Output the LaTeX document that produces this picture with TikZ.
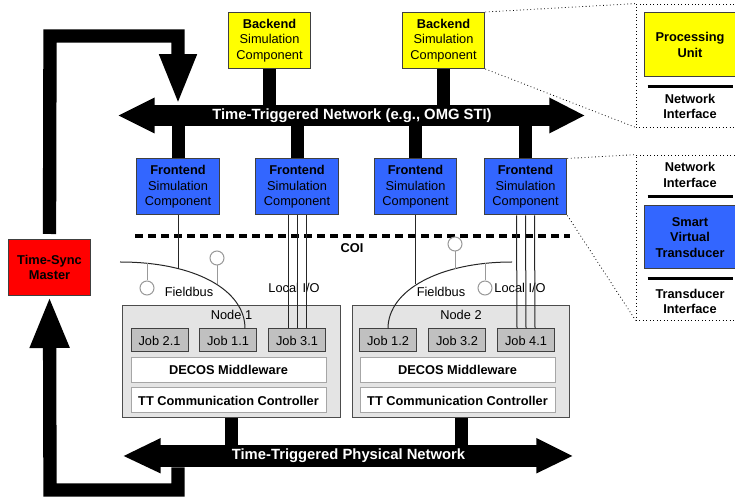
\documentclass[tikz,border=0pt]{standalone}
\usepackage{fontspec}
\setmainfont{Liberation Sans}
\usetikzlibrary{arrows.meta,calc,positioning}

\definecolor{simyellow}{HTML}{FFFF00}
\definecolor{simblue}{HTML}{3366FF}
\definecolor{syncred}{HTML}{FF0000}
\definecolor{nodegray}{HTML}{E4E4E4}
\definecolor{jobgray}{HTML}{C0C0C0}

\begin{document}
\begin{tikzpicture}[x=0.75pt,y=-0.75pt,
  font=\fontsize{9.6}{11.6}\selectfont,
  simbox/.style={draw=black!75,line width=0.75pt,minimum width=62pt,minimum height=42pt,align=center,inner sep=0pt},
  backend/.style={simbox,fill=simyellow},
  frontend/.style={simbox,fill=simblue},
  shaft/.style={fill=black,text=white,font=\fontsize{11.1}{13}\selectfont\bfseries,inner sep=0pt},
  stem/.style={line width=9.75pt},
  syncline/.style={line width=10pt,line join=miter},
  nodebox/.style={draw=black!70,line width=0.75pt,fill=nodegray,minimum width=163pt,minimum height=84pt},
  job/.style={draw=black!75,line width=0.75pt,fill=jobgray,minimum width=42.75pt,minimum height=17.25pt,inner sep=0pt},
  layer/.style={draw=black!35,line width=0.75pt,fill=white,minimum width=146.25pt,minimum height=18.4pt,inner sep=0pt,font=\fontsize{9.6}{11.6}\selectfont\bfseries},
  wire/.style={line width=0.75pt,black!85},
  stub/.style={line width=0.75pt,black!40},
  sensor/.style={circle,draw=black!40,line width=0.75pt,fill=white,minimum size=10.5pt,inner sep=0pt},
  panel/.style={draw,dotted,line width=0.6pt,minimum width=85.5pt},
  zoomline/.style={dotted,line width=0.6pt},
  sepbar/.style={line width=2pt},
  bold/.style={font=\fontsize{9.6}{11.6}\selectfont\bfseries,align=center}]
\useasboundingbox (0,0) rectangle (735,498);
\clip (0,0) rectangle (735,498);

% simulation components
\node[backend] (be1) at (269.5,40.5) {\textbf{Backend}\\Simulation\\Component};
\node[backend] (be2) at (443.5,40.5) {\textbf{Backend}\\Simulation\\Component};
\node[frontend] (fe1) at (178,187) {\textbf{Frontend}\\Simulation\\Component};
\node[frontend] (fe2) at (297,187) {\textbf{Frontend}\\Simulation\\Component};
\node[frontend] (fe3) at (415.5,187) {\textbf{Frontend}\\Simulation\\Component};
\node[frontend] (fe4) at (525.5,187) {\textbf{Frontend}\\Simulation\\Component};
\node[simbox,fill=syncred,font=\fontsize{9.6}{11.6}\selectfont\bfseries] (tsm) at (49.5,267.5) {Time-Sync\\Master};

% time-triggered networks
\node[shaft,minimum width=297pt,minimum height=15.75pt] (ttn) at (352,115.5) {Time-Triggered Network (e.g., OMG STI)};
\fill ($(ttn.west)+(1,-18)$) -- ($(ttn.west)+(-35,0)$) -- ($(ttn.west)+(1,18)$) -- cycle;
\fill ($(ttn.east)+(-1,-18)$) -- ($(ttn.east)+(34,0)$) -- ($(ttn.east)+(-1,18)$) -- cycle;
\node[shaft,minimum width=282.75pt,minimum height=16.5pt] (ttp) at (348.5,456) {Time-Triggered Physical Network};
\fill ($(ttp.west)+(1,-18)$) -- ($(ttp.west)+(-36,0)$) -- ($(ttp.west)+(1,17.5)$) -- cycle;
\fill ($(ttp.east)+(-1,-18)$) -- ($(ttp.east)+(35,0)$) -- ($(ttp.east)+(-1,17.5)$) -- cycle;

\foreach \c in {be1,be2}
  \draw[stem] (\c.south) -- (\c.south |- ttn.north);
\foreach \c in {fe1,fe2,fe3,fe4}
  \draw[stem] (\c.north) -- (\c.north |- ttn.south);

% clock synchronisation loop
\draw[syncline,-{Triangle[length=38pt,width=25.5pt]}] (tsm.north) ++(0,-5) -- (50,36) -- (178,36) -- (fe1.north |- ttn.north);
\draw[syncline,-{Triangle[length=39pt,width=27pt]}] (ttp.south -| 178,0) -- (178,490) -- (50,490) -- (tsm.south);

% component nodes
\node[nodebox] (nd1) at (231.5,362) {};
\node[nodebox] (nd2) at (461,362) {};
\node[below=0pt of nd1.north] {Node 1};
\node[below=0pt of nd2.north] {Node 2};
\node[job] (job21) at (159.5,340.5) {Job 2.1};
\node[job] (job11) at (228,340.5) {Job 1.1};
\node[job] (job31) at (297,340.5) {Job 3.1};
\node[job] (job12) at (388,340.5) {Job 1.2};
\node[job] (job32) at (457,340.5) {Job 3.2};
\node[job] (job41) at (526,340.5) {Job 4.1};
\node[layer] (mw1) at (228.5,370) {DECOS Middleware};
\node[layer] (mw2) at (457.5,370) {DECOS Middleware};
\node[layer,minimum height=18.75pt] (cc1) at (228.5,400.5) {TT Communication Controller};
\node[layer,minimum height=18.75pt] (cc2) at (457.5,400.5) {TT Communication Controller};
\foreach \n in {nd1,nd2}
  \draw[stem] (\n.south) -- (\n.south |- ttp.north);

% COI
\coordinate (coiL) at (135,236);
\coordinate (coiR) at (570,236);
\draw[line width=2.4pt,dash pattern=on 6pt off 3.75pt] (coiL) -- (coiR);
\node[bold] at (352,248) {COI};

% fieldbuses
\coordinate (fb1) at (120,262);
\coordinate (fb2) at (512,262);
\draw[wire] (fb1) .. controls (195,262) and (245,290) ..
  coordinate[pos=0.13] (fb1a) coordinate[pos=0.3] (fb1b) coordinate[pos=0.55] (fb1c)
  ($(job11.north)+(17,0)$);
\draw[wire] (fb2) .. controls (440,262) and (388,290) ..
  coordinate[pos=0.12] (fb2a) coordinate[pos=0.29] (fb2b) coordinate[pos=0.55] (fb2c)
  (job12.north);
\draw[wire] (fe1.south) -- (fe1.south |- fb1b);
\draw[wire] (fe3.south) -- (fe3.south |- fb2c);

\node[sensor] (s1) at (147,288) {};
\node[sensor] (s2) at (217,258) {};
\node[sensor] (s3) at (455,244) {};
\node[sensor] (s4) at (485,288) {};
\draw[stub] (s1.north) -- (s1.north |- fb1a);
\draw[stub] (s2.south) -- (s2.south |- fb1c);
\draw[stub] (s3.south) -- (s3.south |- fb2b);
\draw[stub] (s4.north) -- (s4.north |- fb2a);

\node at (189,292) {Fieldbus};
\node at (441,292) {Fieldbus};
\node at (294,288) {Local I/O};
\node at (520,288) {Local I/O};

% local I/O
\foreach \dx in {-9,0,9} {
  \draw[wire] ($(fe2.south)+(\dx,0)$) -- ($(job31.north)+(\dx,0)$);
  \draw[wire] ($(fe4.south)+(\dx,0)$) -- ($(job41.north)+(\dx,0)$);
}

% detail views
\node[panel,minimum height=92.25pt] (det1) at (693,65.5) {};
\node[panel,minimum height=123.75pt] (det2) at (693,237.5) {};
\draw[zoomline] (be2.north east) -- (det1.north west);
\draw[zoomline] (be2.south east) -- (det1.south west);
\draw[zoomline] (fe4.north east) -- (det2.north west);
\draw[zoomline] (fe4.south east) -- (det2.south west);

\node[simbox,bold,fill=simyellow,minimum width=69pt,minimum height=48pt] (pu) at (690,45) {Processing\\Unit};
\draw[sepbar] ($(pu.south west)+(4,9)$) -- ($(pu.south east)+(-4,9)$);
\node[bold] at (690,106.5) {Network\\Interface};

\node[bold] at (690,175) {Network\\Interface};
\node[simbox,bold,fill=simblue,minimum width=69pt,minimum height=47.25pt] (svt) at (690,237.5) {Smart\\Virtual\\Transducer};
\draw[sepbar] ($(svt.north west)+(4,-9)$) -- ($(svt.north east)+(-4,-9)$);
\draw[sepbar] ($(svt.south west)+(4,9)$) -- ($(svt.south east)+(-4,9)$);
\node[bold] at (690,301.5) {Transducer\\Interface};
\end{tikzpicture}
\end{document}
